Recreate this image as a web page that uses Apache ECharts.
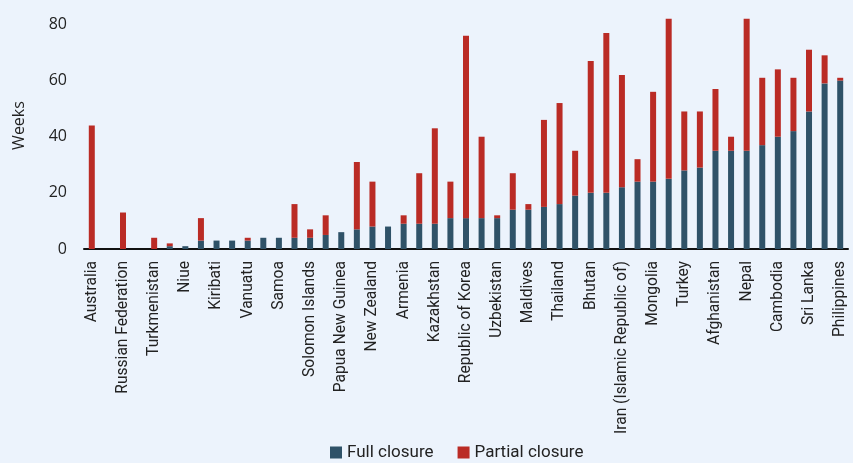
<!DOCTYPE html>
<html lang="en">
<head>
<meta charset="UTF-8">
<title>School closures</title>
<script src="https://cdn.jsdelivr.net/npm/echarts@6/dist/echarts.min.js"></script>
<style>
  html, body { margin: 0; padding: 0; background: #ecf3fc; }
  #main { width: 853px; height: 463px; }
</style>
</head>
<body>
<div id="main"></div>
<script>
// countries (every other one is labelled on the axis)
var countries = [
  'Australia', 'Tajikistan', 'Russian Federation', 'Nauru', 'Turkmenistan', 'Tonga',
  'Niue', 'Fiji', 'Kiribati', 'Tuvalu', 'Vanuatu', 'Marshall Islands',
  'Samoa', 'Timor-Leste', 'Solomon Islands', 'Cook Islands', 'Papua New Guinea', 'Japan',
  'New Zealand', 'Palau', 'Armenia', 'Viet Nam', 'Kazakhstan', 'China',
  'Republic of Korea', 'Malaysia', 'Uzbekistan', 'Lao PDR', 'Maldives', 'Pakistan',
  'Thailand', 'Singapore', 'Bhutan', 'Indonesia', 'Iran (Islamic Republic of)', 'Kyrgyzstan',
  'Mongolia', 'Bangladesh', 'Turkey', 'Georgia', 'Afghanistan', 'Brunei Darussalam',
  'Nepal', 'Myanmar', 'Cambodia', 'India', 'Sri Lanka', 'Micronesia', 'Philippines'
];

// weeks of full closure
var fullClosure = [
  0, 0, 0, 0, 0, 1,
  1, 3, 3, 3, 3, 4,
  4, 4, 4, 5, 6, 7,
  8, 8, 9, 9, 9, 11,
  11, 11, 11, 14, 14, 15,
  16, 19, 20, 20, 22, 24,
  24, 25, 28, 29, 35, 35,
  35, 37, 40, 42, 49, 59, 60
];

// weeks of partial closure
var partialClosure = [
  44, 0, 13, 0, 4, 1,
  0, 8, 0, 0, 1, 0,
  0, 12, 3, 7, 0, 24,
  16, 0, 3, 18, 34, 13,
  65, 29, 1, 13, 2, 31,
  36, 16, 47, 57, 40, 8,
  32, 57, 21, 20, 22, 5,
  47, 24, 24, 19, 22, 10, 1
];

var chart = echarts.init(document.getElementById('main'));

var option = {
  backgroundColor: '#ecf3fc',
  animation: false,
  grid: { left: 84, right: 5, top: 2, bottom: 214 },
  legend: {
    bottom: -3,
    left: 325,
    itemWidth: 12,
    itemHeight: 12,
    itemGap: 24,
    icon: 'rect',
    textStyle: { fontFamily: 'Roboto', fontSize: 17, color: '#222' },
    data: ['Full closure', 'Partial closure']
  },
  xAxis: {
    type: 'category',
    data: countries,
    axisLine: { lineStyle: { color: '#111', width: 2 } },
    axisTick: { show: false },
    axisLabel: {
      interval: 1,
      rotate: 90,
      margin: 12,
      fontFamily: 'Roboto',
      fontSize: 15.6,
      color: '#222'
    }
  },
  yAxis: {
    type: 'value',
    min: 0,
    max: 88,
    interval: 20,
    name: 'Weeks',
    nameLocation: 'middle',
    nameGap: 57,
    nameTextStyle: { fontFamily: 'Open Sans', fontSize: 16, color: '#222' },
    splitLine: { show: false },
    axisLine: { show: false },
    axisTick: { show: false },
    axisLabel: {
      showMaxLabel: false,
      margin: 17,
      fontFamily: 'Open Sans',
      fontSize: 16,
      color: '#222'
    }
  },
  series: [
    {
      name: 'Full closure',
      type: 'bar',
      stack: 'weeks',
      barWidth: 6,
      data: fullClosure,
      itemStyle: { color: '#2f5268' }
    },
    {
      name: 'Partial closure',
      type: 'bar',
      stack: 'weeks',
      barWidth: 6,
      data: partialClosure,
      itemStyle: { color: '#ba2b25' }
    }
  ]
};

chart.setOption(option);
</script>
</body>
</html>
